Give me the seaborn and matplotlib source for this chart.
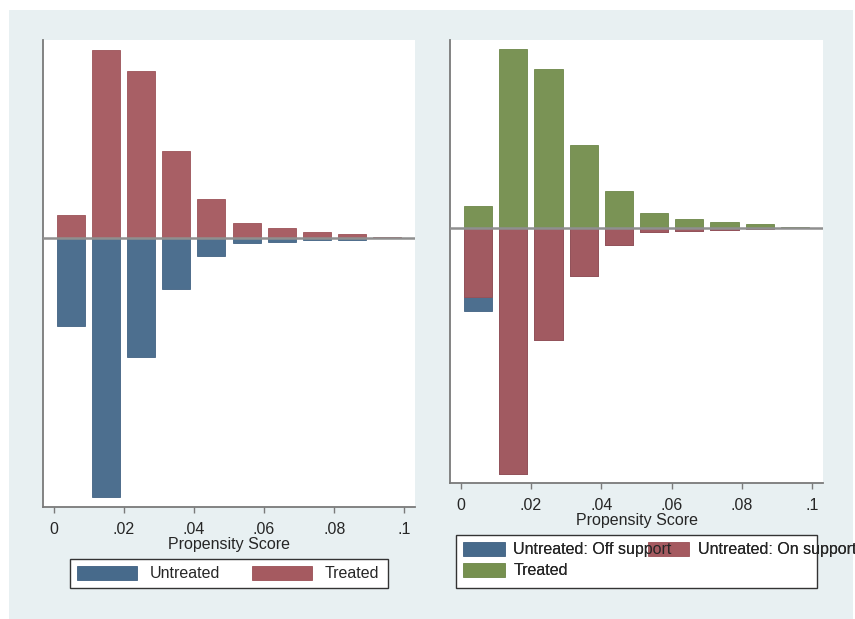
import numpy as np
import pandas as pd
import matplotlib
matplotlib.use("Agg")
import matplotlib.pyplot as plt
from matplotlib.patches import Rectangle, Patch
import seaborn as sns

# ---- data (heights in arbitrary density units) ----
bin_mid = [0.005, 0.015, 0.025, 0.035, 0.045, 0.055, 0.065, 0.075, 0.085, 0.095]
treated = [2.30, 18.80, 16.70, 8.70, 3.87, 1.53, 0.97, 0.57, 0.43, 0.07]
untreated_on = [7.31, 25.93, 11.87, 5.13, 1.80, 0.45, 0.37, 0.20, 0.17, 0.02]
untreated_off = [1.45, 0, 0, 0, 0, 0, 0, 0, 0, 0]
xtick_vals = [0, 0.02, 0.04, 0.06, 0.08, 0.1]
xtick_labels = ["0", ".02", ".04", ".06", ".08", ".1"]
legend_left = ["Untreated", "Treated"]
legend_right = ["Untreated: Off support", "Untreated: On support", "Treated"]

# ---- style ----
sns.set_style("white")
plt.rcParams["font.family"] = ["Liberation Sans", "DejaVu Sans"]
FS = 11.5
BLUE = "#476a8b"
RED = "#a55a60"
GREEN = "#76904f"
BG = "#e8f0f2"
AXC = "#7a7a7a"

W, H = 855, 619
fig = plt.figure(figsize=(W / 100, H / 100), dpi=100)
fig.patch.set_facecolor("white")
fig.patches.append(Rectangle((9 / W, 0), (853 - 9) / W, 1 - 10 / H,
                             transform=fig.transFigure, facecolor=BG,
                             edgecolor="none", zorder=-10))


def px_axes(x0, y0, x1, y1):
    return fig.add_axes([x0 / W, 1 - y1 / H, (x1 - x0) / W, (y1 - y0) / H])


df = pd.DataFrame({
    "ps": bin_mid,
    "treated": treated,
    "untreated": np.array(untreated_on) + np.array(untreated_off),
    "untreated_on": untreated_on,
})
df["neg_untreated"] = -df["untreated"]
df["neg_untreated_on"] = -df["untreated_on"]


def style_axes(ax):
    ax.set_facecolor("white")
    ax.set_xlim(-0.003, 0.103)
    ax.set_ylim(-26.9, 19.8)
    ax.set_yticks([])
    ax.set_ylabel("")
    ax.set_xticks(xtick_vals)
    ax.set_xticklabels(xtick_labels, fontsize=FS)
    ax.set_xlabel("Propensity Score", fontsize=FS, labelpad=0)
    for s in ["top", "right"]:
        ax.spines[s].set_visible(False)
    for s in ["left", "bottom"]:
        ax.spines[s].set_color(AXC)
        ax.spines[s].set_linewidth(1.3)
    ax.tick_params(axis="x", direction="out", length=4.5, width=1.0,
                   color=AXC, pad=6.0, bottom=True)
    ax.axhline(0, color="#8f8f8f", lw=1.8, zorder=5)


bar_kw = dict(errorbar=None, native_scale=True, width=0.8,
              linewidth=0.6, alpha=0.97)

# ---- left panel ----
ax1 = px_axes(43, 40, 415, 507)
sns.barplot(data=df, x="ps", y="treated", color=RED, edgecolor="#9a4f55",
            ax=ax1, saturation=1, **bar_kw)
sns.barplot(data=df, x="ps", y="neg_untreated", color=BLUE,
            edgecolor="#3e5f80", ax=ax1, saturation=1, **bar_kw)
style_axes(ax1)

# ---- right panel ----
ax2 = px_axes(450, 40, 823, 483)
sns.barplot(data=df, x="ps", y="treated", color=GREEN, edgecolor="#6a8546",
            ax=ax2, saturation=1, **bar_kw)
sns.barplot(data=df, x="ps", y="neg_untreated", color=BLUE,
            edgecolor="#3e5f80", ax=ax2, saturation=1, **bar_kw)
sns.barplot(data=df, x="ps", y="neg_untreated_on", color=RED,
            edgecolor="#9a4f55", ax=ax2, saturation=1, **bar_kw)
style_axes(ax2)

# ---- legends ----
fig.patches.append(Rectangle((69.7 / W, 1 - 588.3 / H), (388.3 - 69.7) / W,
                             (588.3 - 559.3) / H, transform=fig.transFigure,
                             facecolor="white", edgecolor="#333333", lw=1.0,
                             zorder=1))
h_left = [Patch(facecolor=BLUE, edgecolor="#3e5f80", lw=0.6),
          Patch(facecolor=RED, edgecolor="#9a4f55", lw=0.6)]
leg1 = fig.legend(h_left, legend_left, loc="upper left",
                  bbox_to_anchor=(76.7 / W, 1 - 565.5 / H),
                  bbox_transform=fig.transFigure, ncol=2, frameon=False,
                  fontsize=FS, borderpad=0, borderaxespad=0,
                  handlelength=3.75, handleheight=1.06, handletextpad=0.8,
                  columnspacing=2.0)

fig.patches.append(Rectangle((456 / W, 1 - 588.3 / H), (816.7 - 456) / W,
                             (588.3 - 535) / H, transform=fig.transFigure,
                             facecolor="white", edgecolor="#333333", lw=1.0,
                             zorder=1))
h_off = Patch(facecolor=BLUE, edgecolor="#3e5f80", lw=0.6)
h_on = Patch(facecolor=RED, edgecolor="#9a4f55", lw=0.6)
h_tr = Patch(facecolor=GREEN, edgecolor="#6a8546", lw=0.6)
leg_kw = dict(loc="upper left", bbox_to_anchor=(463 / W, 1 - 541.5 / H),
              bbox_transform=fig.transFigure, ncol=2, frameon=False,
              fontsize=FS, borderpad=0, borderaxespad=0,
              handlelength=2.6, handleheight=1.06, handletextpad=0.55,
              columnspacing=-1.5, labelspacing=0.32)
# column-wise fill: col1 = Off support, Treated ; col2 = On support
order = [legend_right[0], legend_right[2], legend_right[1]]
leg2 = fig.legend([h_off, h_tr, h_on], order, **leg_kw)
# same legend again with invisible keys so the texts sit on top of the keys
blank = [Patch(facecolor="none", edgecolor="none") for _ in range(3)]
leg3 = fig.legend(blank, order, **leg_kw)

fig.savefig("out.png", dpi=100)
